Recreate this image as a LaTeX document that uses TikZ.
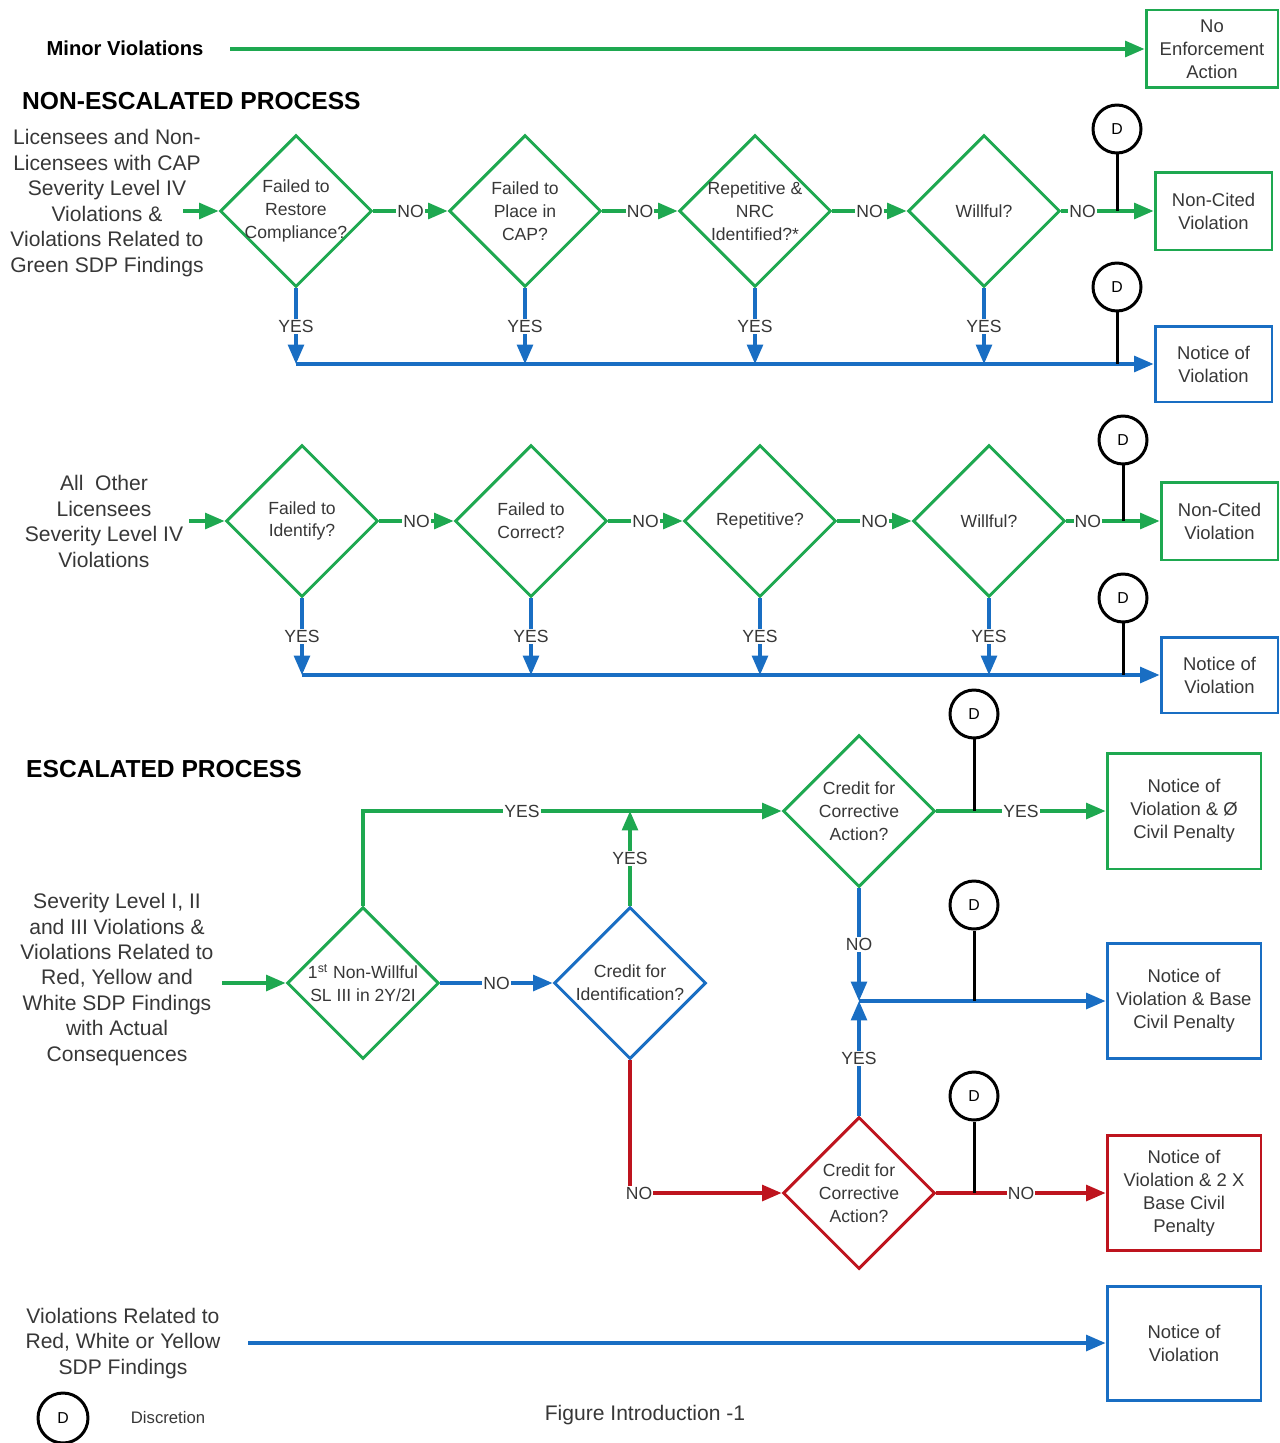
\documentclass[tikz,border=0pt]{standalone}
\usepackage{fontspec}
\setmainfont{Liberation Sans}
\usepackage{tikz}
\usetikzlibrary{shapes.geometric,arrows.meta,calc}
\definecolor{grn}{RGB}{30,168,80}
\definecolor{blu}{RGB}{25,110,195}
\definecolor{rd}{RGB}{190,20,30}
\definecolor{txt}{RGB}{55,55,55}
\tikzset{
  dia/.style={diamond, draw=#1, line width=1.7pt, minimum width=3.04cm, minimum height=3.04cm, inner sep=0pt},
  qtext/.style={align=center, font=\fontsize{10}{13}\selectfont, text=txt},
  box/.style={draw=#1, line width=1.7pt, align=center, inner sep=0pt, font=\fontsize{10.5}{13}\selectfont, text=txt},
  side/.style={align=center, font=\fontsize{12}{14.5}\selectfont, text=txt},
  head/.style={anchor=west, font=\fontsize{14}{16}\selectfont\bfseries},
  disc/.style={circle, draw, line width=1.7pt, minimum size=0.96cm, inner sep=0pt, font=\fontsize{9}{10}\selectfont, fill=white},
  conn/.style={draw=#1, line width=1.8pt, -{Triangle[length=11pt,width=9pt]}},
  stem/.style={draw, line width=1.7pt},
  lbl/.style={fill=white, inner sep=0.6pt, font=\fontsize{10}{12}\selectfont, text=txt}
}
\begin{document}
\begin{tikzpicture}[x=0.02cm,y=-0.02cm]
\useasboundingbox (0,0) rectangle (1280,1443);
% minor violations
\node[font=\fontsize{11.5}{13}\selectfont\bfseries] (hmin) at (125,48) {Minor Violations};
\coordinate (in0) at (230,49);
\node[box=grn, minimum width=2.64cm, minimum height=1.56cm] (noea) at (1212,49) {No\\Enforcement\\Action};
\draw[conn=grn] (in0) -- (in0 -| noea.west);
% non-escalated, first row
\node[head] (hne) at (16,101) {NON-ESCALATED PROCESS};
\node[side] (lic) at (107,203) {Licensees and Non-\\Licensees with CAP\\Severity Level IV\\Violations \&\\Violations Related to\\Green SDP Findings};
\coordinate (in1) at (183,211);
\node[dia=grn, label={[qtext]center:{Failed to\\Restore\\Compliance?}}] (q11) at (296,211) {};
\node[dia=grn, label={[qtext]center:{Failed to\\Place in\\CAP?}}] (q12) at (525,211) {};
\node[dia=grn, label={[qtext]center:{Repetitive \&\\NRC\\Identified?*}}] (q13) at (755,211) {};
\node[dia=grn, label={[qtext]center:{Willful?}}] (q14) at (984,211) {};
\node[box=grn, minimum width=2.34cm, minimum height=1.56cm] (ncv1) at (1213.5,211) {Non-Cited\\Violation};
\node[box=blu, minimum width=2.34cm, minimum height=1.52cm] (nov1) at (1213.5,364) {Notice of\\Violation};
\node[disc] (d1) at (1117,129) {D};
\node[disc] (d2) at (1117,287) {D};
\draw[conn=grn] (in1) -- (q11.west);
\foreach \a/\b in {q11/q12,q12/q13,q13/q14}
  \draw[conn=grn] (\a.east) -- (\b.west) node[lbl,midway] {NO};
\draw[conn=grn] (q14.east) -- (ncv1.west) node[lbl,pos=0.23] {NO};
\foreach \q in {q11,q12,q13,q14}
  \draw[conn=blu] (\q.south) -- (\q.south |- nov1.west) node[lbl,midway] {YES};
\draw[conn=blu] (q11.south |- nov1.west) -- (nov1.west);
\draw[stem] (d1.south) -- (d1.south |- ncv1.west);
\draw[stem] (d2.south) -- (d2.south |- nov1.west);
% non-escalated, second row
\node[side] (oth) at (104,521.5) {All~ Other\\Licensees\\Severity Level IV\\Violations};
\coordinate (in2) at (189,521);
\node[dia=grn, label={[qtext]center:{Failed to\\Identify?}}] (q21) at (302,521) {};
\node[dia=grn, label={[qtext]center:{Failed to\\Correct?}}] (q22) at (531,521) {};
\node[dia=grn, label={[qtext]center:{Repetitive?}}] (q23) at (760,521) {};
\node[dia=grn, label={[qtext]center:{Willful?}}] (q24) at (989,521) {};
\node[box=grn, minimum width=2.34cm, minimum height=1.56cm] (ncv2) at (1219.5,521) {Non-Cited\\Violation};
\node[box=blu, minimum width=2.34cm, minimum height=1.52cm] (nov2) at (1219.5,675) {Notice of\\Violation};
\node[disc] (d3) at (1123,440) {D};
\node[disc] (d4) at (1123,598) {D};
\draw[conn=grn] (in2) -- (q21.west);
\foreach \a/\b in {q21/q22,q22/q23,q23/q24}
  \draw[conn=grn] (\a.east) -- (\b.west) node[lbl,midway] {NO};
\draw[conn=grn] (q24.east) -- (ncv2.west) node[lbl,pos=0.23] {NO};
\foreach \q in {q21,q22,q23,q24}
  \draw[conn=blu] (\q.south) -- (\q.south |- nov2.west) node[lbl,midway] {YES};
\draw[conn=blu] (q21.south |- nov2.west) -- (nov2.west);
\draw[stem] (d3.south) -- (d3.south |- ncv2.west);
\draw[stem] (d4.south) -- (d4.south |- nov2.west);
% escalated
\node[head] (hesc) at (20,769) {ESCALATED PROCESS};
\node[side] (sev) at (117,979.5) {Severity Level I, II\\and III Violations \&\\Violations Related to\\Red, Yellow and\\White SDP Findings\\with Actual\\Consequences};
\coordinate (in3) at (222,983);
\node[dia=grn, label={[qtext]center:{1\textsuperscript{st} Non-Willful\\SL III in 2Y/2I}}] (e1) at (363,983) {};
\node[dia=blu, label={[qtext]center:{Credit for\\Identification?}}] (e2) at (630,983) {};
\node[dia=grn, label={[qtext]center:{Credit for\\Corrective\\Action?}}] (e3) at (859,811) {};
\node[dia=rd, label={[qtext]center:{Credit for\\Corrective\\Action?}}] (e4) at (859,1193) {};
\node[box=grn, minimum width=3.08cm, minimum height=2.32cm] (cp0) at (1184,811) {Notice of\\Violation \& Ø\\Civil Penalty};
\node[box=blu, minimum width=3.08cm, minimum height=2.3cm] (cpb) at (1184,1001) {Notice of\\Violation \& Base\\Civil Penalty};
\node[box=rd, minimum width=3.08cm, minimum height=2.3cm] (cp2) at (1184,1193) {Notice of\\Violation \& 2 X\\Base Civil\\Penalty};
\node[disc] (d5) at (974,714) {D};
\node[disc] (d6) at (974,905) {D};
\node[disc] (d7) at (974,1096) {D};
\coordinate (jn) at (e3.south |- cpb.west);
\draw[conn=grn] (in3) -- (e1.west);
\draw[conn=blu] (e1.east) -- (e2.west) node[lbl,midway] {NO};
\draw[conn=grn] (e1.north) |- (e3.west) node[lbl,pos=0.69] {YES};
\draw[conn=grn] (e2.north) -- (e2.north |- e3.west) node[lbl,midway] {YES};
\draw[conn=grn] (e3.east) -- (cp0.west) node[lbl,midway] {YES};
\draw[conn=blu] (e3.south) -- (jn) node[lbl,midway] {NO};
\draw[conn=blu] (e4.north) -- (jn) node[lbl,midway] {YES};
\draw[conn=blu] (jn) -- (cpb.west);
\draw[conn=rd] (e2.south) |- (e4.west) node[lbl,pos=0.53] {NO};
\draw[conn=rd] (e4.east) -- (cp2.west) node[lbl,midway] {NO};
\draw[stem] (d5.south) -- (d5.south |- cp0.west);
\draw[stem] (d6.south) -- (d6.south |- cpb.west);
\draw[stem] (d7.south) -- (d7.south |- cp2.west);
% red, white or yellow findings
\node[side] (rwy) at (123,1343.5) {Violations Related to\\Red, White or Yellow\\SDP Findings};
\coordinate (in4) at (248,1343);
\node[box=blu, minimum width=3.08cm, minimum height=2.28cm] (nov3) at (1184,1343) {Notice of\\Violation};
\draw[conn=blu] (in4) -- (nov3.west);
% legend and caption
\node[disc, minimum size=1cm] (dl) at (63,1418) {D};
\node[font=\fontsize{9.5}{11}\selectfont, text=txt] (dtx) at (168,1418) {Discretion};
\node[font=\fontsize{12}{14}\selectfont, text=txt] (fig) at (645,1415) {Figure Introduction -1};
\end{tikzpicture}
\end{document}
